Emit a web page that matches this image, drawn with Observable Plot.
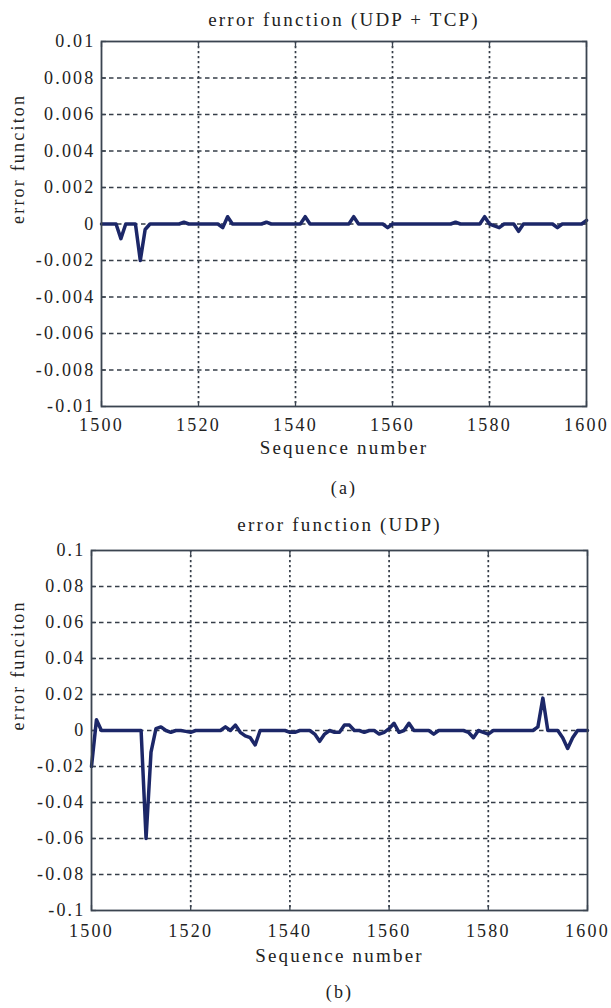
<!DOCTYPE html>
<html>
<head>
<meta charset="utf-8">
<script src="https://cdn.jsdelivr.net/npm/d3@7"></script>
<script src="https://cdn.jsdelivr.net/npm/@observablehq/plot@0.6"></script>
<style>
  html, body { margin: 0; padding: 0; background: #fff; }
  #page { position: relative; width: 611px; height: 1008px; overflow: hidden; }
  #page svg { display: block; }
</style>
</head>
<body>
<div id="page"></div>
<script>
// Sequence numbers shared by both panels
const sequence = d3.range(1500, 1601);

// Panel (a): error function for mixed UDP + TCP traffic
const errorUdpTcp = [
  0, 0, 0, 0, -0.0008, 0, 0, 0, -0.002, -0.0003,
  0, 0, 0, 0, 0, 0, 0, 0.0001, 0, 0,
  0, 0, 0, 0, 0, -0.0002, 0.0004, 0, 0, 0,
  0, 0, 0, 0, 0.0001, 0, 0, 0, 0, 0,
  0, 0, 0.0004, 0, 0, 0, 0, 0, 0, 0,
  0, 0, 0.0004, 0, 0, 0, 0, 0, 0, -0.0002,
  0, 0, 0, 0, 0, 0, 0, 0, 0, 0,
  0, 0, 0, 0.0001, 0, 0, 0, 0, 0, 0.0004,
  0, -0.0001, -0.0002, 0, 0, 0, -0.0004, 0, 0, 0,
  0, 0, 0, 0, -0.0002, 0, 0, 0, 0, 0,
  0.0002
];

// Panel (b): error function for UDP traffic only
const errorUdp = [
  -0.02, 0.006, 0, 0, 0, 0, 0, 0, 0, 0,
  0, -0.06, -0.012, 0.001, 0.002, 0, -0.001, 0, 0, -0.0005,
  -0.001, 0, 0, 0, 0, 0, 0, 0.002, 0, 0.003,
  -0.001, -0.003, -0.004, -0.008, 0, 0, 0, 0, 0, 0,
  -0.001, -0.001, 0, 0, 0, -0.002, -0.006, -0.002, 0, -0.001,
  -0.001, 0.003, 0.003, 0, 0, -0.001, 0, 0, -0.002, -0.001,
  0.001, 0.004, -0.001, 0, 0.004, 0, 0, 0, 0, -0.002,
  0, 0, 0, 0, 0, 0, -0.001, -0.004, 0, -0.001,
  -0.002, 0, 0, 0, 0, 0, 0, 0, 0, 0,
  0.002, 0.018, 0, 0, 0, -0.004, -0.01, -0.004, 0, 0,
  0
];

const xTicks = [1500, 1520, 1540, 1560, 1580, 1600];
const xTickLabels = ["1500", "1520", "1540", "1560", "1580", "1600"];
const yTicksA = [-0.01, -0.008, -0.006, -0.004, -0.002, 0, 0.002, 0.004, 0.006, 0.008, 0.01];
const yTickLabelsA = ["-0.01", "-0.008", "-0.006", "-0.004", "-0.002", "0", "0.002", "0.004", "0.006", "0.008", "0.01"];
const yTicksB = [-0.1, -0.08, -0.06, -0.04, -0.02, 0, 0.02, 0.04, 0.06, 0.08, 0.1];
const yTickLabelsB = ["-0.1", "-0.08", "-0.06", "-0.04", "-0.02", "0", "0.02", "0.04", "0.06", "0.08", "0.1"];

const titles = ["error function (UDP + TCP)", "error function (UDP)"];
const captions = ["(a)", "(b)"];
const xLabel = "Sequence number";
const yLabel = "error funciton";

const INK = "#222";
const GRID = "#363e48";
const FRAME = "#3b4450";
const LINE = "#1c2768";

function panel({values, yTicks, yTickLabels, title, caption, height, margins, yLabelOffset, titleDy, xLabelDy, tickPad, captionDy}) {
  const data = sequence.map((s, i) => ({seq: s, err: values[i]}));
  const [y0, y1] = [yTicks[0], yTicks[yTicks.length - 1]];
  return Plot.plot({
    width: 611,
    height,
    marginLeft: margins.left,
    marginRight: margins.right,
    marginTop: margins.top,
    marginBottom: margins.bottom,
    style: {
      fontFamily: "'Liberation Serif', 'Times New Roman', serif",
      fontSize: "18px",
      letterSpacing: "2.2px",
      color: INK,
      background: "#fff",
      overflow: "visible"
    },
    x: {domain: [1500, 1600], label: null},
    y: {domain: [y0, y1], label: null},
    marks: [
      // dashed horizontal grid, dotted vertical grid
      Plot.ruleY(yTicks.slice(1, -1), {stroke: GRID, strokeWidth: 1.3, strokeDasharray: "4.5,3.5"}),
      Plot.ruleX(xTicks.slice(1, -1), {stroke: GRID, strokeWidth: 1.7, strokeDasharray: "2.2,2.8"}),
      // inward ticks on all four sides
      Plot.axisX({anchor: "bottom", ticks: xTicks, tickSize: -5, tickFormat: () => "", label: null, stroke: FRAME, strokeWidth: 1.3}),
      Plot.axisX({anchor: "top", ticks: xTicks, tickSize: -5, tickFormat: () => "", label: null, stroke: FRAME, strokeWidth: 1.3}),
      Plot.axisY({anchor: "left", ticks: yTicks, tickSize: -5, tickFormat: () => "", label: null, stroke: FRAME, strokeWidth: 1.3}),
      Plot.axisY({anchor: "right", ticks: yTicks, tickSize: -5, tickFormat: () => "", label: null, stroke: FRAME, strokeWidth: 1.3}),
      // tick labels
      Plot.axisX({ticks: xTicks, tickSize: 0, tickPadding: tickPad, fontSize: 18, tickFormat: (d, i) => xTickLabels[i], label: null}),
      Plot.axisY({ticks: yTicks, tickSize: 0, tickPadding: 6, fontSize: 18, tickFormat: (d, i) => yTickLabels[i], label: null}),
      // series
      Plot.line(data, {x: "seq", y: "err", stroke: LINE, strokeWidth: 3.5, strokeLinejoin: "round"}),
      Plot.frame({stroke: FRAME, strokeWidth: 1.8}),
      // title, axis labels, caption
      Plot.text([title], {text: d => d, frameAnchor: "top", dy: titleDy, fontSize: 19, fill: INK, letterSpacing: "1.3px"}),
      Plot.text([xLabel], {text: d => d, frameAnchor: "bottom", dy: xLabelDy, fontSize: 19, fill: INK}),
      Plot.text([yLabel], {text: d => d, frameAnchor: "left", dx: -yLabelOffset, rotate: -90, fontSize: 18, fill: INK, letterSpacing: "1.6px"}),
      Plot.text([caption], {text: d => d, frameAnchor: "bottom", dy: captionDy, fontSize: 18, fill: INK})
    ]
  });
}

const page = document.getElementById("page");
page.appendChild(panel({
  values: errorUdpTcp, yTicks: yTicksA, yTickLabels: yTickLabelsA,
  title: titles[0], caption: captions[0], height: 506,
  margins: {left: 101, right: 25, top: 41, bottom: 100},
  yLabelOffset: 83, titleDy: -29, xLabelDy: 47, tickPad: 12, captionDy: 87
}));
page.appendChild(panel({
  values: errorUdp, yTicks: yTicksB, yTickLabels: yTickLabelsB,
  title: titles[1], caption: captions[1], height: 502,
  margins: {left: 91, right: 24, top: 44, bottom: 98},
  yLabelOffset: 73, titleDy: -33, xLabelDy: 51, tickPad: 14, captionDy: 87
}));
</script>
</body>
</html>
